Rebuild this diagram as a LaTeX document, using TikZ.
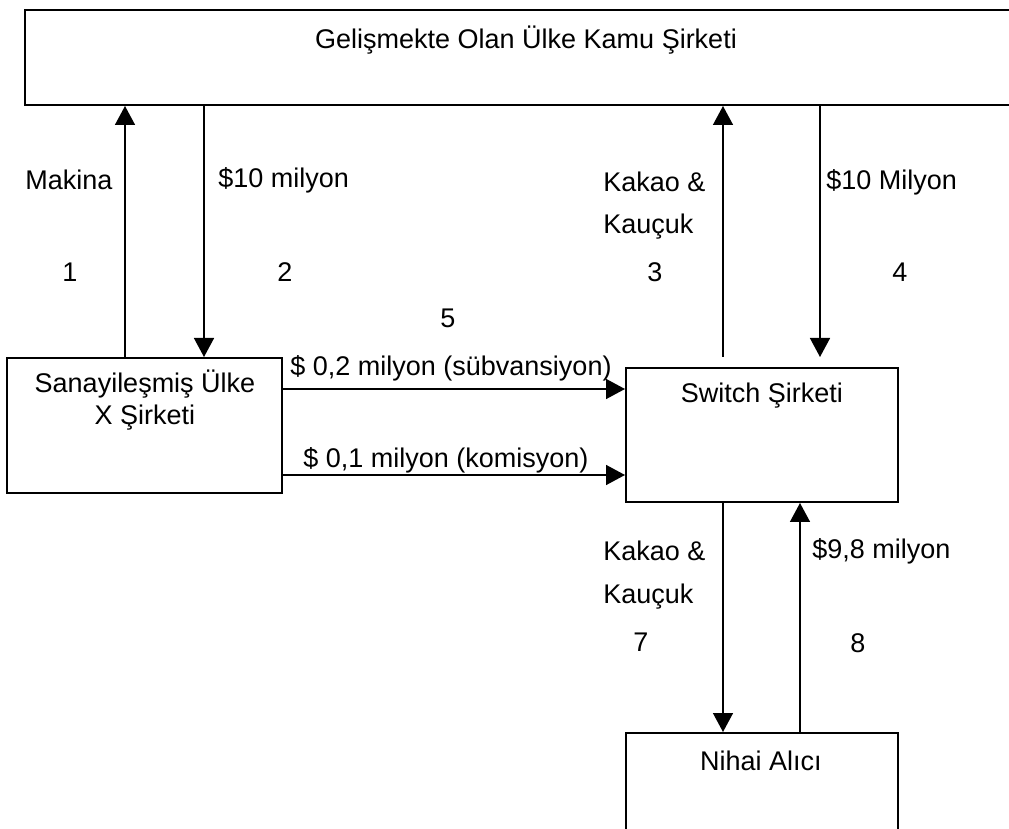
\documentclass[tikz,border=0pt]{standalone}
\usepackage{fontspec}
\setmainfont{Liberation Sans}
\usetikzlibrary{arrows.meta, positioning}
\tikzset{
  firm/.style={rectangle, draw=black, line width=1pt, inner sep=0pt},
  firmtext/.style={align=center, inner sep=0pt},
  flow/.style={-{Triangle[length=9.5pt, width=10pt]}, line width=0.75pt},
  lbl/.style={anchor=west, inner sep=0pt},
  num/.style={inner sep=0pt}
}
\begin{document}
\begin{tikzpicture}[x=0.5pt, y=-0.5pt, every node/.style={font=\fontsize{13.5}{16}\selectfont}]
  \useasboundingbox (0,0) rectangle (1009,829);

  % Firms
  \node[firm, minimum width=495pt, minimum height=47.5pt] (kamu) at (520,57.5) {};
  \node[firmtext] (kamuT) at (526,40) {Gelişmekte Olan Ülke Kamu Şirketi};
  \node[firm, minimum width=137.5pt, minimum height=67.5pt] (firma) at (144.5,425.5) {};
  \node[firmtext] (firmaT) at (145,400) {Sanayileşmiş Ülke\\X Şirketi};
  \node[firm, minimum width=136pt, minimum height=67pt] (switch) at (762,435) {};
  \node[firmtext] (switchT) at (762,396) {Switch Şirketi};
  \node[firm, minimum width=136pt, minimum height=51pt] (alici) at (762,784) {};
  \node[firmtext] (aliciT) at (761,761) {Nihai Alıcı};

  % Flows 1-4
  \draw[flow] (firma.north -| 125,0) -- (kamu.south -| 125,0);
  \draw[flow] (kamu.south -| 204,0) -- (firma.north -| 204,0);
  \draw[flow, shorten <=5pt] (switch.north -| 723,0) -- (kamu.south -| 723,0);
  \draw[flow, shorten >=5pt] (kamu.south -| 820,0) -- (switch.north -| 820,0);

  % Flows 5-6
  \draw[flow] (firma.east |- 0,389) -- (switch.west |- 0,389);
  \draw[flow] (firma.east |- 0,475) -- (switch.west |- 0,475);

  % Flows 7-8
  \draw[flow] (switch.south -| 723,0) -- (alici.north -| 723,0);
  \draw[flow] (alici.north -| 800,0) -- (switch.south -| 800,0);

  % Labels
  \node[lbl] (l1) at (25,180) {Makina};
  \node[lbl] (l2) at (218,180) {\$10 milyon};
  \node[lbl] (l3a) at (603,182) {Kakao \&};
  \node[lbl] (l3b) at (603,227) {Kauçuk};
  \node[lbl] (l4) at (826,182) {\$10 Milyon};
  \node[num] (n1) at (70,272) {1};
  \node[num] (n2) at (285,272) {2};
  \node[num] (n3) at (655,272) {3};
  \node[num] (n4) at (900,272) {4};
  \node[num] (n5) at (448,318) {5};
  \node[num] (l5) at (451,368) {\$ 0,2 milyon (sübvansiyon)};
  \node[num] (l6) at (446,460) {\$ 0,1 milyon (komisyon)};
  \node[lbl] (l7a) at (603,551) {Kakao \&};
  \node[lbl] (l7b) at (603,597) {Kauçuk};
  \node[lbl] (l8) at (812,551) {\$9,8 milyon};
  \node[num] (n7) at (641,642) {7};
  \node[num] (n8) at (858,643) {8};
\end{tikzpicture}
\end{document}
